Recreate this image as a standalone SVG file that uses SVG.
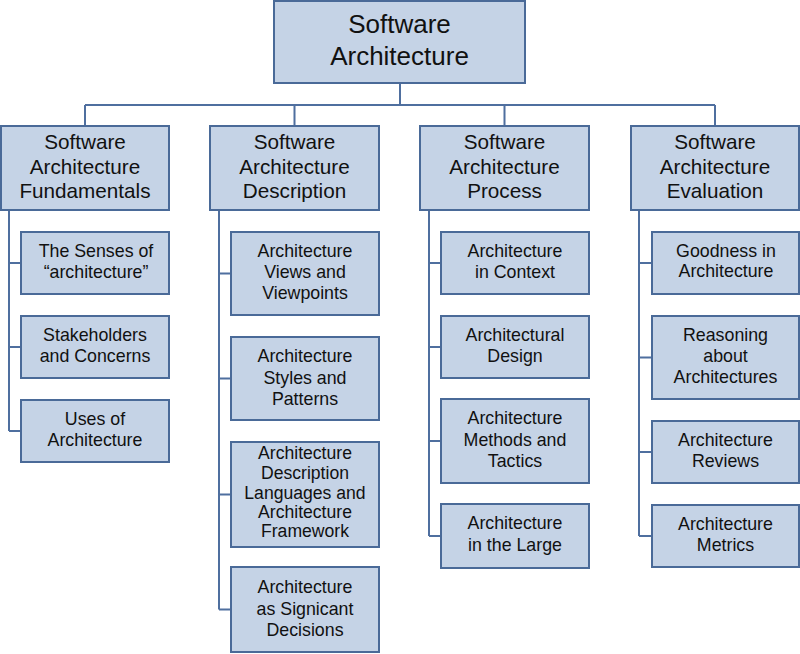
<svg xmlns="http://www.w3.org/2000/svg" width="800" height="654" viewBox="0 0 800 654">
<style>
.box{fill:#c5d3e6;stroke:#4a6a98;stroke-width:2}
.ln{fill:none;stroke:#4f6f9f;stroke-width:2}
text{font-family:"Liberation Sans",Arial,sans-serif;fill:#111;text-anchor:middle}
.t0{font-size:26px}
.t1{font-size:20.7px}
.t2{font-size:17.8px}
.t3{font-size:17.6px}
</style>
<rect width="800" height="654" fill="#ffffff"/>
<g id="connectors">
<path class="ln" d="M400,83V105M85,105H715M85,105V126M294.5,105V126M504.5,105V126M715,105V126"/>
<path class="ln" d="M9,210V431M9,263H21M9,347H21M9,431H21"/>
<path class="ln" d="M219,210V609.5M219,273.5H231M219,378.5H231M219,494.5H231M219,609.5H231"/>
<path class="ln" d="M429,210V536M429,263H441M429,347H441M429,441H441M429,536H441"/>
<path class="ln" d="M639,210V536M639,263H652M639,357.5H652M639,452H652M639,536H652"/>
</g>
<g id="root">
<rect class="box" x="274" y="1" width="251" height="82"/>
<text class="t0" x="399.5" y="33">Software</text>
<text class="t0" x="399.5" y="65">Architecture</text>
</g>
<g id="fundamentals">
<rect class="box" x="1" y="126" width="168" height="84"/>
<text class="t1" x="85" y="149">Software</text>
<text class="t1" x="85" y="173.5">Architecture</text>
<text class="t1" x="85" y="198">Fundamentals</text>
</g>
<g id="description">
<rect class="box" x="210" y="126" width="169" height="84"/>
<text class="t1" x="294.5" y="149">Software</text>
<text class="t1" x="294.5" y="173.5">Architecture</text>
<text class="t1" x="294.5" y="198">Description</text>
</g>
<g id="process">
<rect class="box" x="420" y="126" width="169" height="84"/>
<text class="t1" x="504.5" y="149">Software</text>
<text class="t1" x="504.5" y="173.5">Architecture</text>
<text class="t1" x="504.5" y="198">Process</text>
</g>
<g id="evaluation">
<rect class="box" x="631" y="126" width="168" height="84"/>
<text class="t1" x="715" y="149">Software</text>
<text class="t1" x="715" y="173.5">Architecture</text>
<text class="t1" x="715" y="198">Evaluation</text>
</g>
<g id="senses">
<rect class="box" x="21" y="232" width="148" height="62"/>
<text class="t2" x="96" y="257">The Senses of</text>
<text class="t2" x="96" y="278">“architecture”</text>
</g>
<g id="stakeholders">
<rect class="box" x="21" y="316" width="148" height="62"/>
<text class="t2" x="95" y="341">Stakeholders</text>
<text class="t2" x="95" y="362">and Concerns</text>
</g>
<g id="uses">
<rect class="box" x="21" y="400" width="148" height="62"/>
<text class="t2" x="95" y="425">Uses of</text>
<text class="t2" x="95" y="446">Architecture</text>
</g>
<g id="views">
<rect class="box" x="231" y="232" width="148" height="83"/>
<text class="t2" x="305" y="257">Architecture</text>
<text class="t2" x="305" y="278">Views and</text>
<text class="t2" x="305" y="299">Viewpoints</text>
</g>
<g id="styles">
<rect class="box" x="231" y="337" width="148" height="83"/>
<text class="t2" x="305" y="362">Architecture</text>
<text class="t2" x="305" y="384">Styles and</text>
<text class="t2" x="305" y="405">Patterns</text>
</g>
<g id="adl">
<rect class="box" x="231" y="442" width="148" height="105"/>
<text class="t3" x="305" y="459.3">Architecture</text>
<text class="t3" x="305" y="479.3">Description</text>
<text class="t3" x="305" y="498.5">Languages and</text>
<text class="t3" x="305" y="517.8">Architecture</text>
<text class="t3" x="305" y="537.3">Framework</text>
</g>
<g id="decisions">
<rect class="box" x="231" y="567" width="148" height="85"/>
<text class="t2" x="305" y="593.3">Architecture</text>
<text class="t2" x="305" y="615">as Signicant</text>
<text class="t2" x="305" y="636">Decisions</text>
</g>
<g id="context">
<rect class="box" x="441" y="232" width="148" height="62"/>
<text class="t2" x="515" y="257">Architecture</text>
<text class="t2" x="515" y="278">in Context</text>
</g>
<g id="design">
<rect class="box" x="441" y="316" width="148" height="62"/>
<text class="t2" x="515" y="341">Architectural</text>
<text class="t2" x="515" y="362">Design</text>
</g>
<g id="methods">
<rect class="box" x="441" y="399" width="148" height="84"/>
<text class="t2" x="515" y="424.3">Architecture</text>
<text class="t2" x="515" y="446">Methods and</text>
<text class="t2" x="515" y="467.3">Tactics</text>
</g>
<g id="large">
<rect class="box" x="441" y="504" width="148" height="64"/>
<text class="t2" x="515" y="529.3">Architecture</text>
<text class="t2" x="515" y="550.7">in the Large</text>
</g>
<g id="goodness">
<rect class="box" x="652" y="232" width="147" height="62"/>
<text class="t2" x="726" y="256.7">Goodness in</text>
<text class="t2" x="726" y="277.3">Architecture</text>
</g>
<g id="reasoning">
<rect class="box" x="652" y="316" width="147" height="83"/>
<text class="t2" x="725.5" y="341">Reasoning</text>
<text class="t2" x="725.5" y="362">about</text>
<text class="t2" x="725.5" y="383">Architectures</text>
</g>
<g id="reviews">
<rect class="box" x="652" y="421" width="147" height="62"/>
<text class="t2" x="725.5" y="446">Architecture</text>
<text class="t2" x="725.5" y="467">Reviews</text>
</g>
<g id="metrics">
<rect class="box" x="652" y="505" width="147" height="62"/>
<text class="t2" x="725.5" y="530">Architecture</text>
<text class="t2" x="725.5" y="551">Metrics</text>
</g>
</svg>
